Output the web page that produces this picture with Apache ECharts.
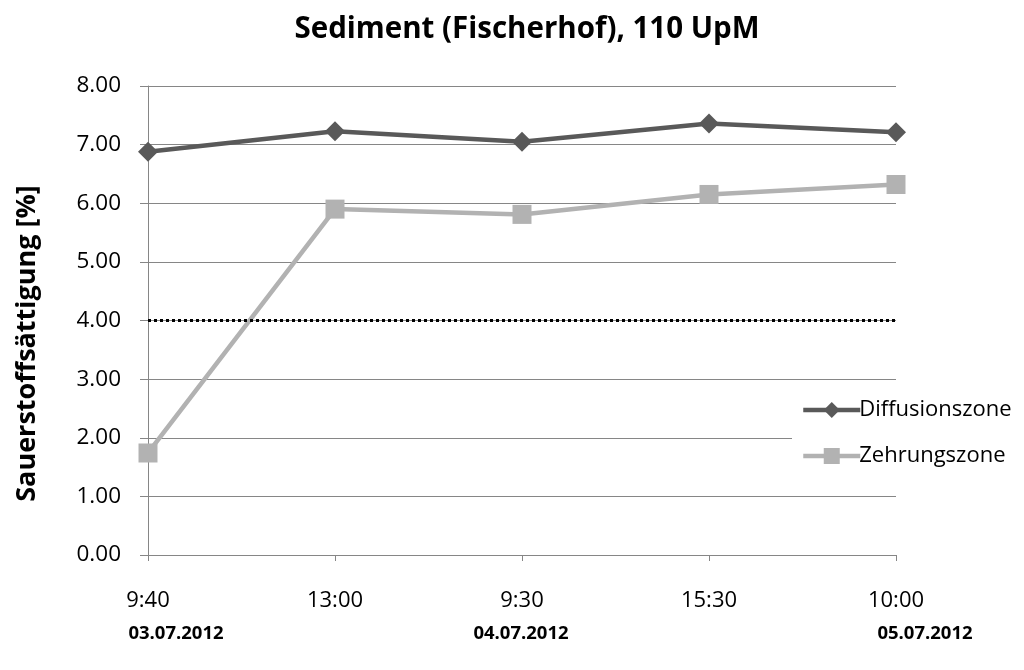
<!DOCTYPE html>
<html>
<head>
<meta charset="utf-8">
<script src="https://cdn.jsdelivr.net/npm/echarts@6/dist/echarts.min.js"></script>
<style>
  html, body { margin: 0; padding: 0; background: #fff; }
  #chart { width: 1024px; height: 670px; }
</style>
</head>
<body>
<div id="chart"></div>
<script>
// Measurement times and oxygen saturation readings
const times = ['9:40', '13:00', '9:30', '15:30', '10:00'];
const diffusionszone = [6.88, 7.23, 7.05, 7.36, 7.21];
const zehrungszone = [1.74, 5.90, 5.81, 6.15, 6.32];
const threshold = 4.0;
const dates = ['03.07.2012', '04.07.2012', '05.07.2012'];
const dateCenters = [176, 521, 925];

const FONT = '"Open Sans", sans-serif';
const AXIS_GRAY = '#868686';

const chart = echarts.init(document.getElementById('chart'), null, { renderer: 'canvas' });

chart.setOption({
  animation: false,
  backgroundColor: '#ffffff',
  title: {
    text: 'Sediment (Fischerhof), 110 UpM',
    left: 522,
    top: 10,
    textAlign: 'center',
    textStyle: { fontFamily: FONT, fontSize: 29.5, fontWeight: 'bold', color: '#000' }
  },
  grid: {
    left: 148, right: 128, top: 86, bottom: 115,
    containLabel: false,
    outerBoundsMode: 'none'
  },
  xAxis: {
    type: 'category',
    data: times,
    boundaryGap: false,
    axisLine: { lineStyle: { color: AXIS_GRAY, width: 1 } },
    axisTick: { show: true, length: 6, alignWithLabel: true, lineStyle: { color: AXIS_GRAY } },
    axisLabel: { fontFamily: FONT, fontSize: 22, color: '#000', margin: 35 },
    splitLine: { show: false }
  },
  yAxis: {
    type: 'value',
    min: 0,
    max: 8,
    interval: 1,
    name: 'Sauerstoffsättigung [%]',
    nameLocation: 'middle',
    nameGap: 107,
    nameTextStyle: { fontFamily: FONT, fontSize: 27, fontWeight: 'bold', color: '#000', padding: [0, 46, 0, 0] },
    axisLine: { show: true, lineStyle: { color: AXIS_GRAY, width: 1 } },
    axisTick: { show: true, length: 8, lineStyle: { color: AXIS_GRAY } },
    axisLabel: {
      fontFamily: FONT, fontSize: 22.5, color: '#000', margin: 27,
      formatter: v => v.toFixed(2)
    },
    splitLine: { show: true, lineStyle: { color: AXIS_GRAY, width: 1 } }
  },
  legend: {
    orient: 'vertical',
    left: 792,
    top: 389,
    padding: [10, 10, 16, 9],
    itemGap: 24,
    itemWidth: 57,
    itemHeight: 20,
    backgroundColor: '#ffffff',
    lineStyle: { width: 4.5 },
    textStyle: { fontFamily: FONT, fontSize: 22, color: '#000', padding: [0, 0, 0, -6] },
    data: ['Diffusionszone', 'Zehrungszone']
  },
  series: [
    {
      name: 'Diffusionszone',
      type: 'line',
      data: diffusionszone,
      symbol: 'diamond',
      symbolSize: 20,
      lineStyle: { color: '#595959', width: 4.5 },
      itemStyle: { color: '#595959' },
      z: 3,
      markLine: {
        silent: true,
        symbol: ['none', 'none'],
        label: { show: false },
        lineStyle: { color: '#000', type: [3, 3], width: 3 },
        data: [{ yAxis: threshold }]
      }
    },
    {
      name: 'Zehrungszone',
      type: 'line',
      data: zehrungszone,
      symbol: 'rect',
      symbolSize: 19,
      lineStyle: { color: '#b2b2b2', width: 4.5 },
      itemStyle: { color: '#b2b2b2' },
      z: 4
    }
  ],
  // Day labels beneath the time axis, centred on their anchors
  graphic: dates.map((d, i) => ({
    type: 'text',
    x: dateCenters[i],
    y: 634,
    style: {
      text: d,
      align: 'center',
      verticalAlign: 'middle',
      fontFamily: FONT,
      fontSize: 18.5,
      fontWeight: 'bold',
      fill: '#000'
    }
  }))
});
</script>
</body>
</html>
